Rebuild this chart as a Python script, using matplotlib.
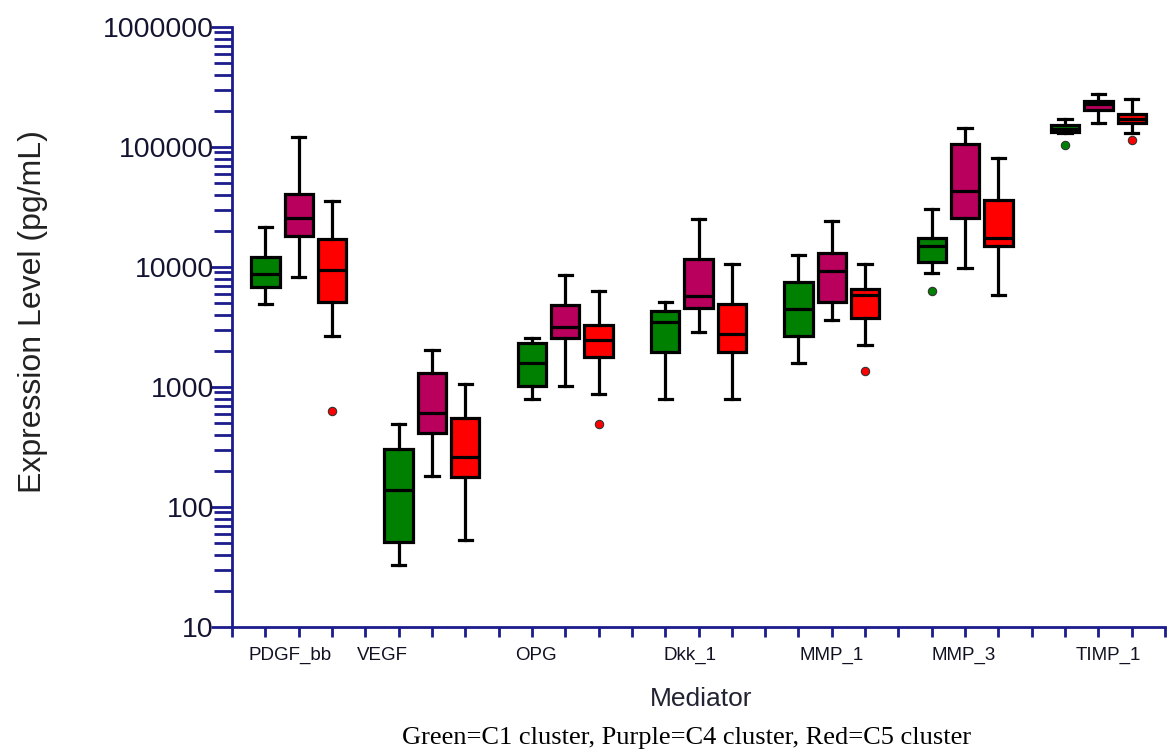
import numpy as np
import matplotlib
matplotlib.use('Agg')
import matplotlib.pyplot as plt
from matplotlib.ticker import FixedLocator, NullFormatter, LogLocator

# valores (pg/mL)
mediators = ['PDGF_bb', 'VEGF', 'OPG', 'Dkk_1', 'MMP_1', 'MMP_3', 'TIMP_1']

# C1 (verde)
c1_whislo = [4900, 33, 790, 790, 1580, 8970, 131000]
c1_q1 = [6860, 51, 1025, 1945, 2660, 11100, 134000]
c1_med = [8700, 139, 1575, 3460, 4490, 15100, 140000]
c1_q3 = [12200, 303, 2310, 4300, 7550, 17300, 152000]
c1_whishi = [21500, 489, 2550, 5080, 12600, 30300, 170000]
c1_fliers = [[], [], [], [], [], [6310], [103000]]

# C4 (morado)
c4_whislo = [8200, 180, 1025, 2890, 3620, 9810, 157000]
c4_q1 = [18100, 411, 2550, 4530, 5140, 25500, 203000]
c4_med = [25600, 611, 3140, 5770, 9310, 43000, 227000]
c4_q3 = [40600, 1315, 4820, 11600, 13200, 106000, 242000]
c4_whishi = [120500, 2050, 8580, 25100, 24200, 143000, 275000]
c4_fliers = [[], [], [], [], [], [], []]

# C5 (rojo)
c5_whislo = [2640, 53, 870, 790, 2240, 5840, 131000]
c5_q1 = [5110, 179, 1790, 1945, 3780, 15000, 157000]
c5_med = [9380, 262, 2460, 2770, 5840, 17300, 171000]
c5_q3 = [17000, 555, 3270, 4890, 6550, 36100, 187000]
c5_whishi = [35700, 1065, 6310, 10600, 10600, 81500, 251000]
c5_fliers = [[635], [], [489], [], [1360], [], [114000]]

colores = ['#008000', '#b8005c', '#ff0000']
eje = '#1c1c8c'
label_shift = [-0.26, -1.5, -0.88, -0.26, 0.0, -0.04, 0.3]

series = [
    (c1_whislo, c1_q1, c1_med, c1_q3, c1_whishi, c1_fliers),
    (c4_whislo, c4_q1, c4_med, c4_q3, c4_whishi, c4_fliers),
    (c5_whislo, c5_q1, c5_med, c5_q3, c5_whishi, c5_fliers),
]

fig = plt.figure(figsize=(11.73, 7.51), dpi=100)
ax = fig.add_axes([0.1978, 0.1651, 0.7954, 0.799])

for j, (wlo, q1, med, q3, whi, fl) in enumerate(series):
    stats = []
    for i in range(len(mediators)):
        stats.append(dict(whislo=wlo[i], q1=q1[i], med=med[i], q3=q3[i],
                          whishi=whi[i], fliers=fl[i]))
    pos = [4 * i + 1 + j for i in range(len(mediators))]
    ax.bxp(stats, positions=pos, widths=0.85, patch_artist=True,
           showfliers=True, manage_ticks=False,
           boxprops=dict(facecolor=colores[j], edgecolor='black', linewidth=2.3),
           medianprops=dict(color='black', linewidth=2.3),
           whiskerprops=dict(color='black', linewidth=2.3),
           capprops=dict(color='black', linewidth=2.3),
           capwidths=0.4,
           flierprops=dict(marker='o', markersize=6, markerfacecolor=colores[j],
                           markeredgecolor='#333333', markeredgewidth=0.8))

ax.set_yscale('log')
ax.set_ylim(10, 1e6)
ax.set_xlim(0, 4 * len(mediators))

ax.spines['top'].set_visible(False)
ax.spines['right'].set_visible(False)
for s in ['left', 'bottom']:
    ax.spines[s].set_color(eje)
    ax.spines[s].set_linewidth(2)

ax.yaxis.set_major_locator(FixedLocator([10, 100, 1000, 10000, 100000, 1000000]))
ax.set_yticklabels(['10', '100', '1000', '10000', '100000', '1000000'])
ax.yaxis.set_minor_locator(LogLocator(base=10, subs=np.arange(2, 10)))
ax.yaxis.set_minor_formatter(NullFormatter())
ax.tick_params(axis='y', which='major', length=15, width=2, color=eje,
               labelsize=20.5, pad=-2, labelcolor='#141432')
ax.tick_params(axis='y', which='minor', length=13, width=2, color=eje)
for t in ax.get_yticklabels():
    t.set_family('Liberation Sans')

ax.set_xticks(range(0, 4 * len(mediators) + 1))
ax.set_xticklabels([])
ax.tick_params(axis='x', which='major', length=7, width=2, color=eje)

# etiquetas de los mediadores
for i, m in enumerate(mediators):
    ax.text(4 * i + 2 + label_shift[i], -0.048, m, transform=ax.get_xaxis_transform(),
            ha='center', va='center', fontsize=13.5, family='Liberation Sans',
            color='#111122')

ax.set_ylabel('Expression Level (pg/mL)', fontsize=23, family='Liberation Sans',
              color='#222222')
ax.yaxis.set_label_coords(-0.197, 0.525)
ax.set_xlabel('Mediator', fontsize=19, family='Liberation Sans', color='#222233')
ax.xaxis.set_label_coords(0.503, -0.1)

fig.text(0.585, 0.002, 'Green=C1 cluster, Purple=C4 cluster, Red=C5 cluster',
         ha='center', va='bottom', fontsize=19, family='Liberation Serif')

fig.savefig('out.png', dpi=100)
